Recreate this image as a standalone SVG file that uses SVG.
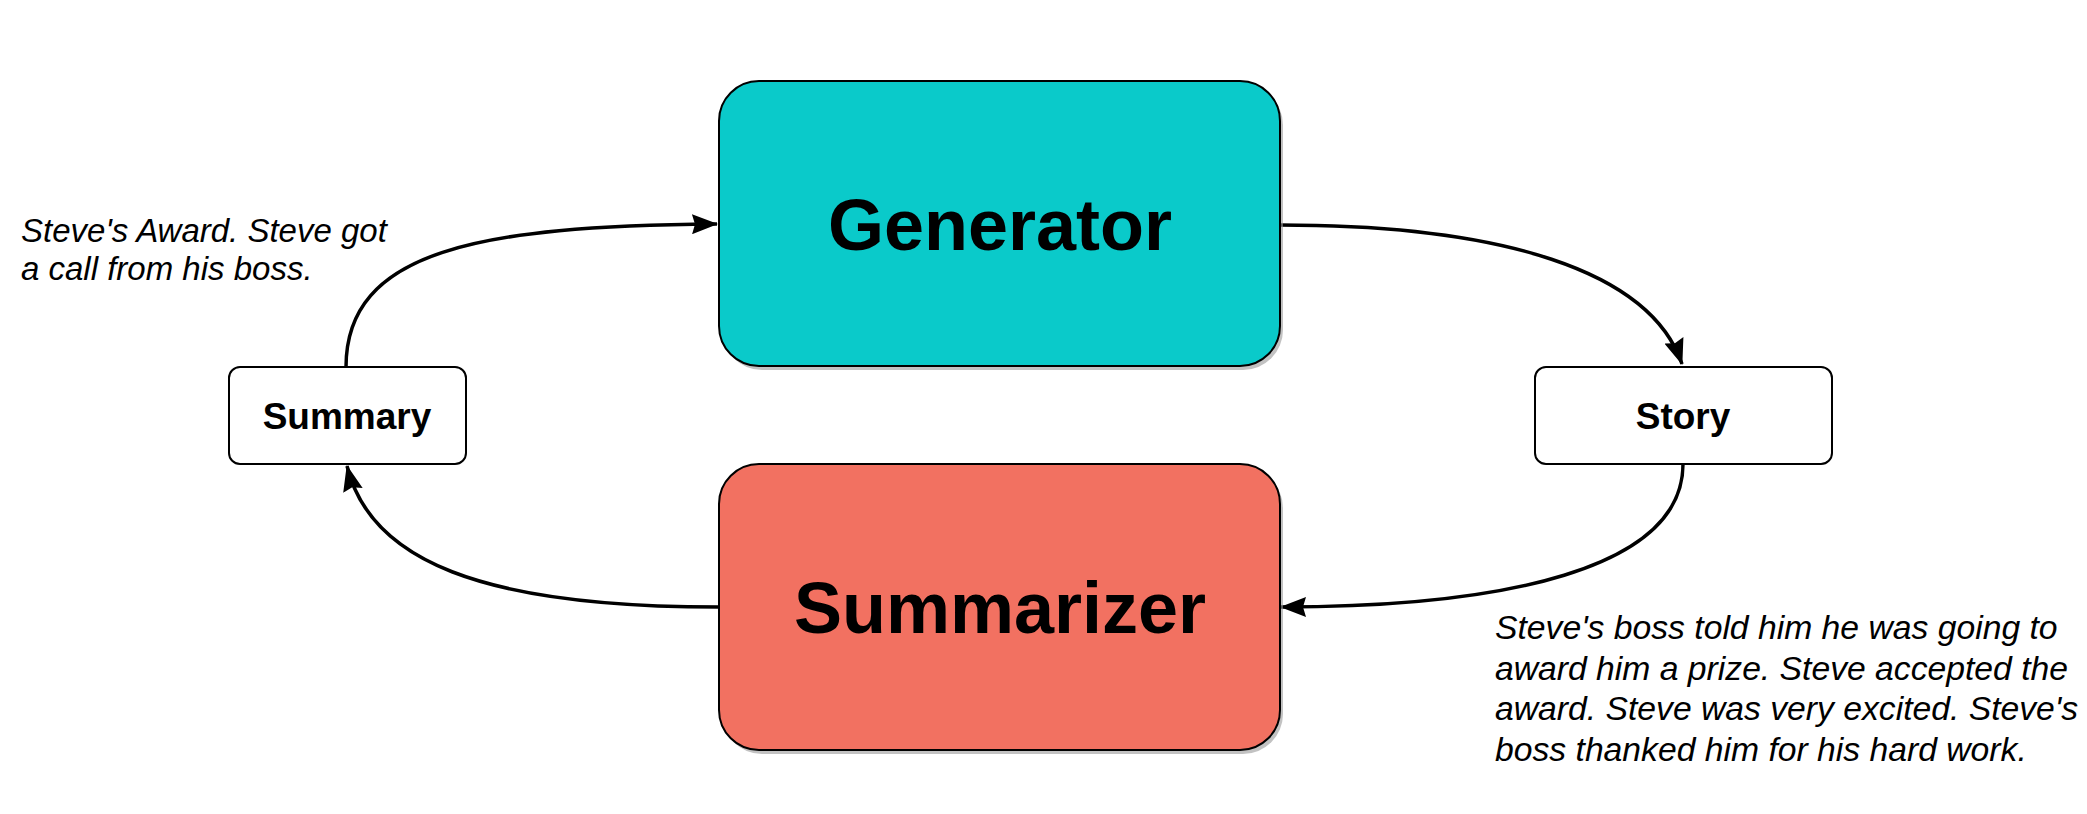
<svg xmlns="http://www.w3.org/2000/svg" width="2087" height="814" viewBox="0 0 2087 814">
  <style>
    .big { stroke: #000; stroke-width: 2; }
    .shadow { fill: #9a9a9a; opacity: 0.6; }
    .small { fill: #fff; stroke: #000; stroke-width: 2; }
    .bigtxt { font-family: "Liberation Sans", Arial, sans-serif; font-weight: bold; font-size: 72px; fill: #000; text-anchor: middle; }
    .smtxt { font-family: "Liberation Sans", Arial, sans-serif; font-weight: bold; font-size: 37px; fill: #000; text-anchor: middle; }
    .note { font-family: "Liberation Sans", Arial, sans-serif; font-style: italic; font-size: 33px; fill: #000; }
    .note2 { font-family: "Liberation Sans", Arial, sans-serif; font-style: italic; font-size: 33.7px; fill: #000; }
    .conn { fill: none; stroke: #000; stroke-width: 3.5; }
  </style>
  <defs>
    <marker id="arrow" viewBox="0 0 26 20" refX="25" refY="10" markerWidth="26" markerHeight="20" markerUnits="userSpaceOnUse" orient="auto">
      <path d="M0,0 L26,10 L0,20 L3,10 Z" fill="#000"/>
    </marker>
  </defs>
  <rect width="2087" height="814" fill="#fff"/>

  <g id="connectors">
    <path class="conn" d="M346,367 C346,250 480,226 717,224" marker-end="url(#arrow)"/>
    <path class="conn" d="M1280,225 C1500,225 1650,270 1682,364" marker-end="url(#arrow)"/>
    <path class="conn" d="M1683,464 C1683,570 1500,607 1281,607" marker-end="url(#arrow)"/>
    <path class="conn" d="M719,607 C480,607 370,560 347,466" marker-end="url(#arrow)"/>
  </g>

  <g id="generator">
    <rect class="shadow" x="722" y="85" width="561" height="285" rx="40"/>
    <rect class="big" x="719" y="81" width="561" height="285" rx="40" fill="#0ACACA"/>
    <text class="bigtxt" x="1000" y="250">Generator</text>
  </g>

  <g id="summarizer">
    <rect class="shadow" x="722" y="468" width="561" height="286" rx="40"/>
    <rect class="big" x="719" y="464" width="561" height="286" rx="40" fill="#F27161"/>
    <text class="bigtxt" x="1000" y="633">Summarizer</text>
  </g>

  <g id="summary">
    <rect class="small" x="229" y="367" width="237" height="97" rx="11"/>
    <text class="smtxt" x="347" y="429">Summary</text>
  </g>

  <g id="story">
    <rect class="small" x="1535" y="367" width="297" height="97" rx="11"/>
    <text class="smtxt" x="1683" y="429">Story</text>
  </g>

  <g id="summary-text">
    <text class="note" x="21" y="242">Steve's Award. Steve got</text>
    <text class="note" x="21" y="280">a call from his boss.</text>
  </g>

  <g id="story-text">
    <text class="note2" x="1495" y="639">Steve's boss told him he was going to</text>
    <text class="note2" x="1495" y="680">award him a prize. Steve accepted the</text>
    <text class="note2" x="1495" y="720">award. Steve was very excited. Steve's</text>
    <text class="note2" x="1495" y="761">boss thanked him for his hard work.</text>
  </g>
</svg>
